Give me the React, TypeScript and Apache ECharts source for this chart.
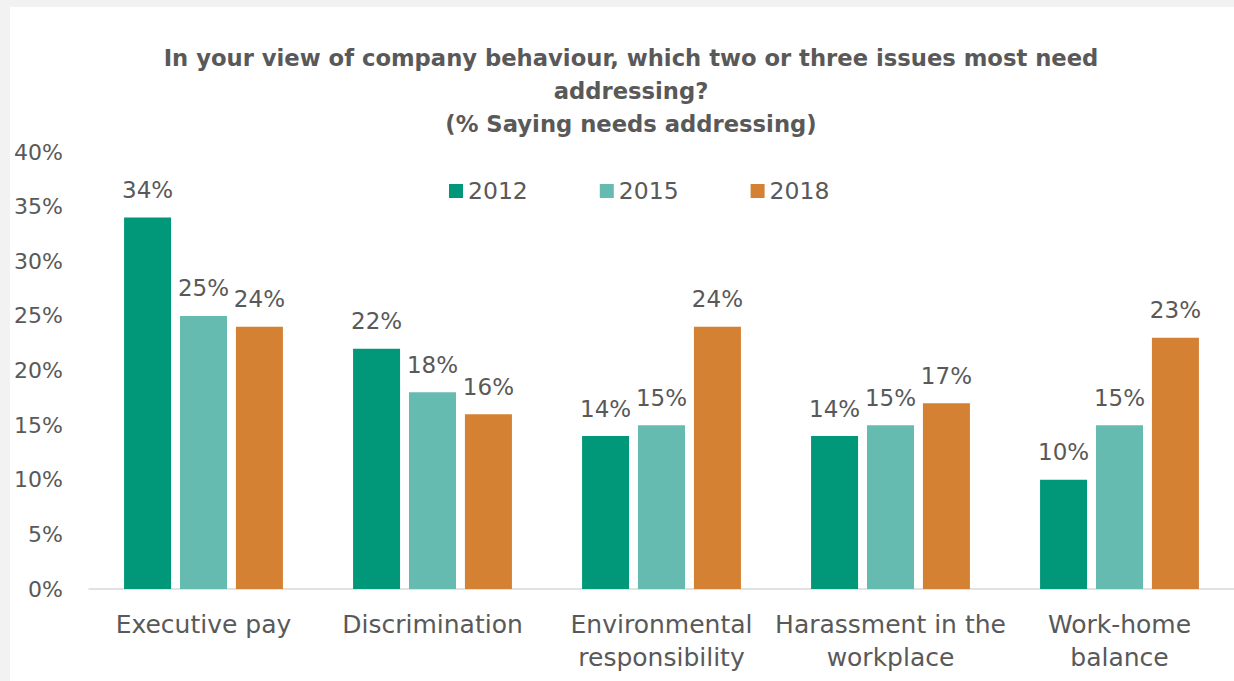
import React, { useEffect, useRef } from "react";
import * as echarts from "echarts";

const categories = [
  "Executive pay",
  "Discrimination",
  "Environmental\nresponsibility",
  "Harassment in the\nworkplace",
  "Work-home\nbalance",
];
const seriesNames = ["2012", "2015", "2018"];
const values2012 = [34, 22, 14, 14, 10];
const values2015 = [25, 18, 15, 15, 15];
const values2018 = [24, 16, 24, 17, 23];
const colors = ["#009879", "#66bbb0", "#d58133"];
const titleLines = [
  "In your view of company behaviour, which two or three issues most need",
  "addressing?",
  "(% Saying needs addressing)",
];

const FONT = "'DejaVu Sans', sans-serif";
const TXT = "#595959";

export default function App() {
  const ref = useRef<HTMLDivElement>(null);
  useEffect(() => {
    if (!ref.current) return;
    const chart = echarts.init(ref.current, undefined, { renderer: "svg" });
    const data = [values2012, values2015, values2018];
    chart.setOption({
      animation: false,
      backgroundColor: "#ffffff",
      textStyle: { fontFamily: FONT, color: TXT },
      title: {
        text: titleLines.join("\n"),
        left: 621,
        top: 34,
        padding: 0,
        textAlign: "center",
        textStyle: {
          fontFamily: FONT,
          fontSize: 22.7,
          fontWeight: "bold",
          color: TXT,
          lineHeight: 33,
        },
      },
      legend: {
        data: seriesNames,
        left: 439,
        top: 172,
        padding: 0,
        itemWidth: 14,
        itemHeight: 14,
        itemGap: 72,
        icon: "rect",
        textStyle: { fontFamily: FONT, fontSize: 23.5, color: TXT },
      },
      grid: { left: 79, top: 145, width: 1148, height: 437, containLabel: false },
      xAxis: {
        type: "category",
        data: categories,
        axisLine: { lineStyle: { color: "#d9d9d9", width: 1.5 } },
        axisTick: { show: false },
        axisLabel: {
          fontFamily: FONT,
          fontSize: 25,
          color: TXT,
          lineHeight: 33,
          margin: 19,
          interval: 0,
        },
      },
      yAxis: {
        type: "value",
        min: 0,
        max: 40,
        interval: 5,
        axisLine: { show: false },
        axisTick: { show: false },
        splitLine: { show: false },
        axisLabel: {
          fontFamily: FONT,
          fontSize: 22,
          color: TXT,
          margin: 26,
          formatter: "{value}%",
        },
      },
      series: seriesNames.map((name, i) => ({
        name,
        type: "bar",
        data: data[i],
        barWidth: 47,
        barGap: "19%",
        itemStyle: { color: colors[i] },
        label: {
          show: true,
          position: "top",
          distance: 16,
          formatter: "{c}%",
          fontFamily: FONT,
          fontSize: 23,
          color: TXT,
        },
      })),
    });
    return () => chart.dispose();
  }, []);
  return (
    <div
      style={{
        position: "fixed",
        left: 0,
        top: 0,
        width: 1234,
        height: 681,
        background: "#f2f2f2",
      }}
    >
      <div
        ref={ref}
        style={{ position: "absolute", left: 10, top: 7, width: 1224, height: 674, background: "#fff" }}
      />
    </div>
  );
}
